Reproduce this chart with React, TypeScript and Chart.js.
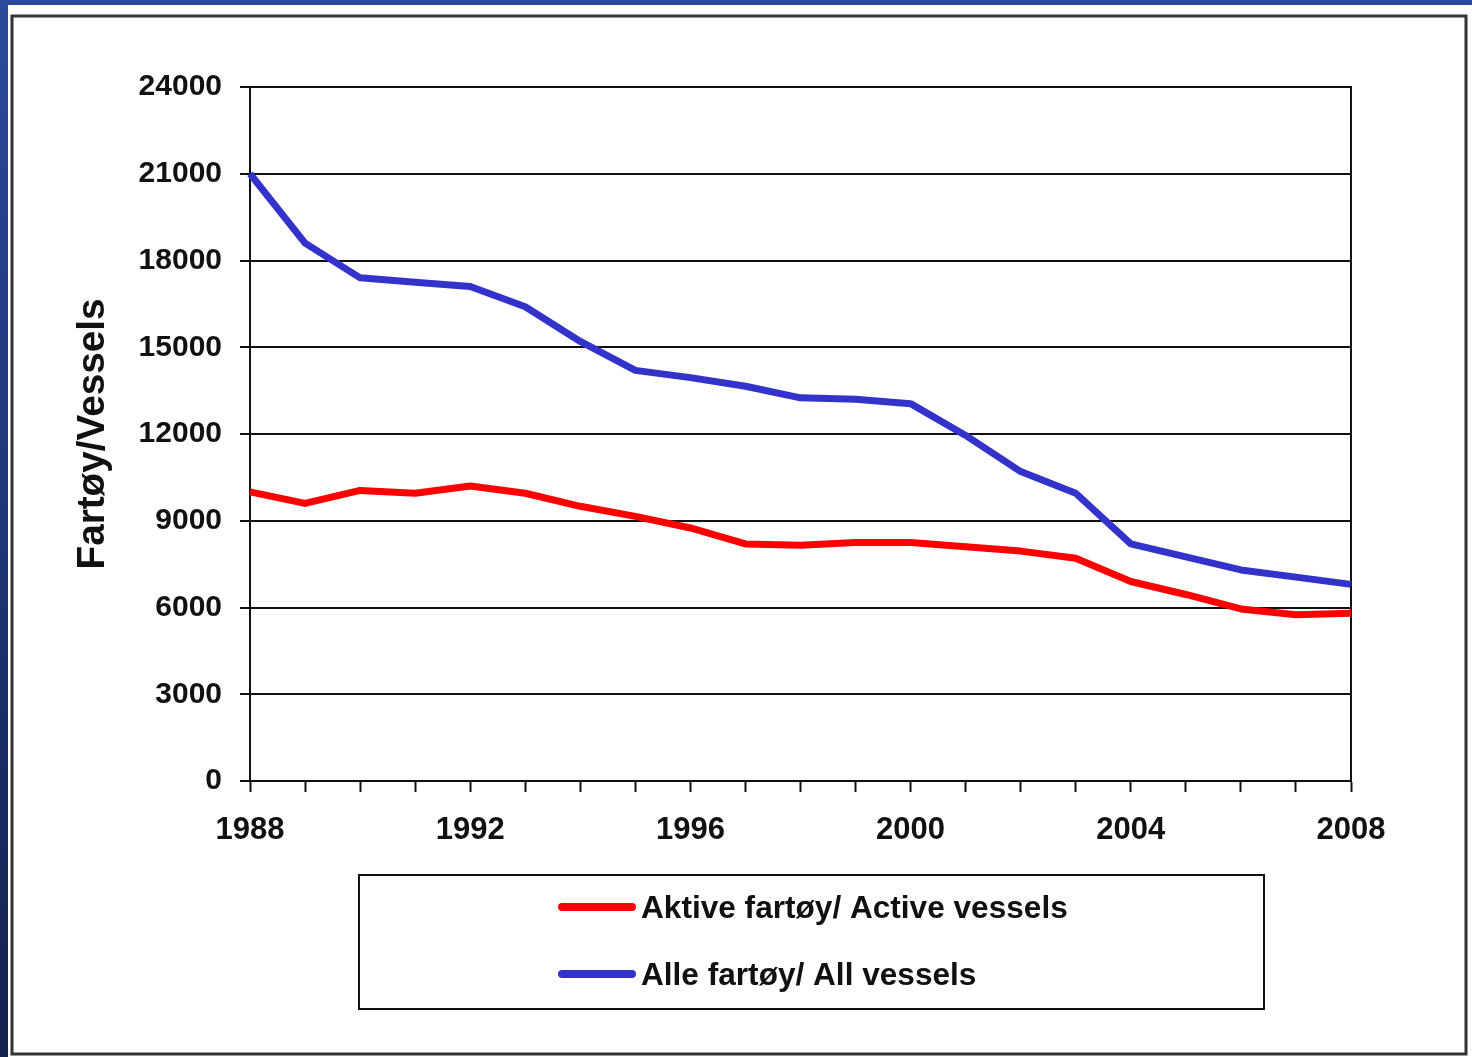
import { useEffect, useRef } from "react";
import { Chart, registerables } from "chart.js";

Chart.register(...registerables);

const years = [
  "1988", "1989", "1990", "1991", "1992", "1993", "1994", "1995", "1996", "1997",
  "1998", "1999", "2000", "2001", "2002", "2003", "2004", "2005", "2006", "2007", "2008",
];
const activeVessels = [
  10000, 9600, 10050, 9950, 10200, 9950, 9500, 9150, 8750, 8200,
  8150, 8250, 8250, 8100, 7950, 7700, 6900, 6450, 5950, 5750, 5800,
];
const allVessels = [
  21000, 18600, 17400, 17250, 17100, 16400, 15200, 14200, 13950, 13650,
  13250, 13200, 13050, 11950, 10700, 9950, 8200, 7750, 7300, 7050, 6800,
];
const seriesLabels = ["Aktive fartøy/ Active vessels", "Alle fartøy/ All vessels"];
const seriesColors = ["#ff0000", "#3333cc"];
const yMin = 0;
const yMax = 24000;
const yStep = 3000;
const xLabelEvery = 4;
const yAxisTitle = "Fartøy/Vessels";

const FONT = "'Liberation Sans', Arial, Helvetica, sans-serif";
const INK = "#111111";

const framePlugin = {
  id: "frame",
  beforeDraw(chart: any) {
    const ctx = chart.ctx;
    const w = chart.width;
    const h = chart.height;
    ctx.save();
    ctx.fillStyle = "#ffffff";
    ctx.fillRect(0, 0, w, h);
    ctx.fillStyle = "#28489a";
    ctx.fillRect(0, 0, w, 5);
    const g = ctx.createLinearGradient(0, 0, 0, h);
    g.addColorStop(0, "#2a4a9c");
    g.addColorStop(1, "#12214d");
    ctx.fillStyle = g;
    ctx.fillRect(0, 0, 8, h);
    ctx.strokeStyle = "#333333";
    ctx.lineWidth = 3;
    ctx.strokeRect(12, 16, 1454, 1038);
    ctx.restore();
  },
  beforeDatasetsDraw(chart: any) {
    const { ctx, chartArea } = chart;
    ctx.save();
    ctx.strokeStyle = INK;
    ctx.lineWidth = 2;
    ctx.beginPath();
    ctx.moveTo(chartArea.right, chartArea.top - 1);
    ctx.lineTo(chartArea.right, chartArea.bottom + 1);
    ctx.stroke();
    ctx.restore();
  },
  afterDraw(chart: any) {
    const ctx = chart.ctx;
    ctx.save();
    ctx.strokeStyle = INK;
    ctx.lineWidth = 2;
    ctx.strokeRect(359, 875, 905, 134);
    const rows = [907, 974];
    chart.data.datasets.forEach((ds: any, i: number) => {
      const y = rows[i];
      ctx.strokeStyle = ds.borderColor;
      ctx.lineWidth = 8;
      ctx.lineCap = "round";
      ctx.beginPath();
      ctx.moveTo(562, y);
      ctx.lineTo(632, y);
      ctx.stroke();
      ctx.fillStyle = INK;
      ctx.font = `bold 31.6px ${FONT}`;
      ctx.textBaseline = "middle";
      ctx.textAlign = "left";
      ctx.fillText(ds.label, 641, y + 2);
    });
    ctx.restore();
  },
};

export default function App() {
  const canvasRef = useRef<HTMLCanvasElement | null>(null);

  useEffect(() => {
    document.body.style.margin = "0";
    const canvas = canvasRef.current;
    if (!canvas) return;
    const chart = new Chart(canvas, {
      type: "line",
      data: {
        labels: years,
        datasets: [
          {
            label: seriesLabels[0],
            data: activeVessels,
            borderColor: seriesColors[0],
            backgroundColor: seriesColors[0],
            borderWidth: 7,
            pointRadius: 0,
            tension: 0,
            borderJoinStyle: "round",
            fill: false,
          },
          {
            label: seriesLabels[1],
            data: allVessels,
            borderColor: seriesColors[1],
            backgroundColor: seriesColors[1],
            borderWidth: 7,
            pointRadius: 0,
            tension: 0,
            borderJoinStyle: "round",
            fill: false,
          },
        ],
      },
      options: {
        responsive: false,
        animation: false,
        devicePixelRatio: 1,
        layout: { padding: { left: 0, top: 87, right: 121, bottom: 0 } },
        plugins: {
          legend: { display: false },
          tooltip: { enabled: false },
        },
        scales: {
          x: {
            type: "category",
            offset: false,
            afterFit: (scale: any) => {
              scale.height = 276;
            },
            border: { display: true, color: INK, width: 2 },
            grid: {
              drawOnChartArea: false,
              drawTicks: true,
              tickLength: 11,
              tickColor: INK,
              tickWidth: 2,
            },
            ticks: {
              autoSkip: false,
              maxRotation: 0,
              minRotation: 0,
              padding: 20,
              color: INK,
              font: { family: FONT, size: 31, weight: "bold" },
              callback: function (this: any, value: any, index: number) {
                return index % xLabelEvery === 0 ? this.getLabelForValue(value) : "";
              },
            },
          },
          y: {
            min: yMin,
            max: yMax,
            afterFit: (scale: any) => {
              scale.width = 250;
            },
            border: { display: true, color: INK, width: 2 },
            grid: {
              color: INK,
              lineWidth: 2,
              drawTicks: true,
              tickLength: 10,
              tickColor: INK,
              tickWidth: 2,
            },
            ticks: {
              stepSize: yStep,
              padding: 18,
              color: INK,
              font: { family: FONT, size: 30, weight: "bold" },
              callback: (v: any) => String(v),
            },
            title: {
              display: true,
              text: yAxisTitle,
              color: INK,
              font: { family: FONT, size: 38.7, weight: "bold", lineHeight: 1 },
              padding: { top: 74, bottom: 0 },
            },
          },
        },
      },
      plugins: [framePlugin],
    });
    return () => chart.destroy();
  }, []);

  return (
    <div style={{ position: "fixed", left: 0, top: 0, width: 1472, height: 1057 }}>
      <canvas ref={canvasRef} width={1472} height={1057} style={{ width: 1472, height: 1057, display: "block" }} />
    </div>
  );
}
